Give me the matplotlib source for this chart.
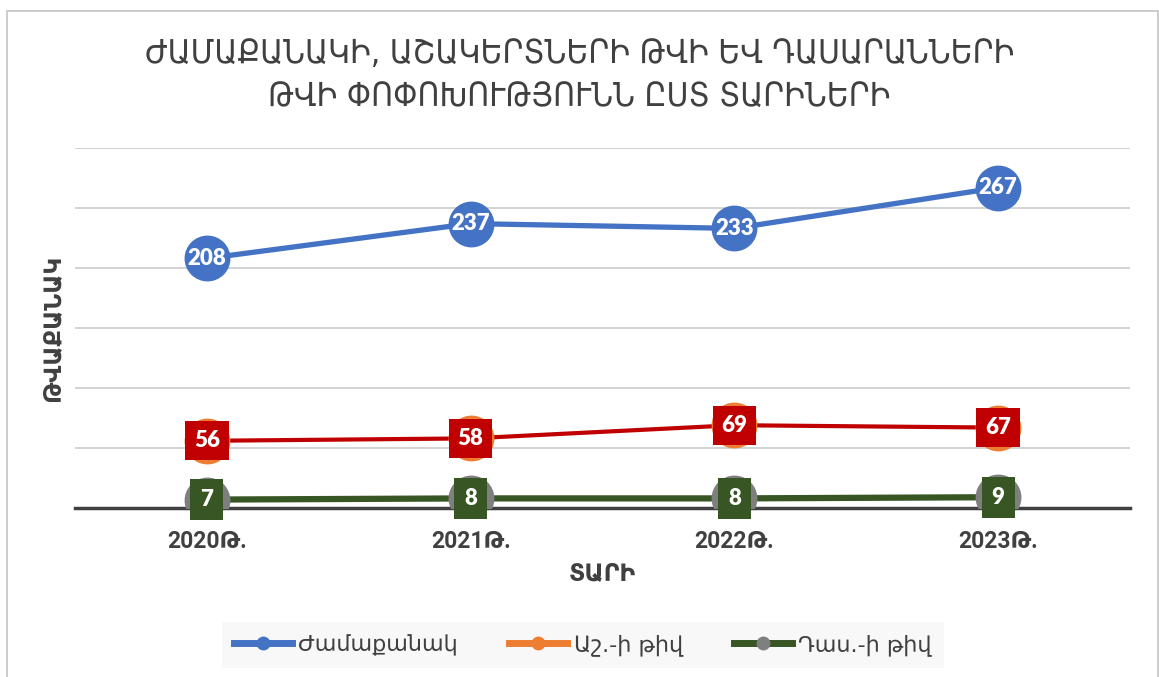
import matplotlib
matplotlib.use("Agg")
import matplotlib.pyplot as plt
from matplotlib.lines import Line2D
from matplotlib.patches import Rectangle

# chart data
years = ["2020Թ.", "2021Թ.", "2022Թ.", "2023Թ."]
hours = [208, 237, 233, 267]
pupils = [56, 58, 69, 67]
classes = [7, 8, 8, 9]
series_names = ["Ժամաքանակ", "Աշ.-ի թիվ", "Դաս.-ի թիվ"]

title = "ԺԱՄԱՔԱՆԱԿԻ, ԱՇԱԿԵՐՏՆԵՐԻ ԹՎԻ ԵՎ ԴԱՍԱՐԱՆՆԵՐԻ\nԹՎԻ ՓՈՓՈԽՈՒԹՅՈՒՆՆ ԸՍՏ ՏԱՐԻՆԵՐԻ"
xlabel = "ՏԱՐԻ"
ylabel = "ԹՎԱՔԱՆԱԿ"

blue = "#4472C4"
orange = "#ED7D31"
red = "#C00000"
green = "#375623"
gray = "#7F7F7F"
txt = "#404040"

W, H = 1159, 677
fig = plt.figure(figsize=(W / 100, H / 100), dpi=100)

# outer chart border
fig.patches.append(Rectangle((7 / W, -0.01), (W - 8) / W, 1 - 11 / H + 0.01,
                             transform=fig.transFigure, fill=False,
                             edgecolor="#C8C8C8", linewidth=1.3))

ax = fig.add_axes([75 / W, (H - 508) / H, (1130 - 75) / W, 360 / H])
x = list(range(len(years)))

ax.plot(x, hours, color=blue, lw=3.8, marker="o", ms=32,
        mfc=blue, mec=blue, zorder=5)
ax.plot(x, pupils, color=red, lw=3.0, marker="o", ms=32,
        mfc=orange, mec=orange, zorder=4)
ax.plot(x, classes, color=green, lw=4.5, marker="o", ms=32,
        mfc=gray, mec=gray, zorder=4)

lab_font = dict(family="Lato", weight="heavy", size=16, color="white",
                ha="center", va="center")
for xi, v in zip(x, hours):
    ax.text(xi, v, str(v), zorder=6, **lab_font)
for xi, v in zip(x, pupils):
    ax.text(xi, v, str(v), zorder=6,
            bbox=dict(boxstyle="square,pad=0.4", fc=red, ec="none"), **lab_font)
for xi, v in zip(x, classes):
    ax.text(xi, v, str(v), zorder=6,
            bbox=dict(boxstyle="square,pad=0.45", fc=green, ec="none"), **lab_font)

ax.set_xlim(-0.5, len(years) - 0.5)
ax.set_ylim(0, 300)
ax.set_yticks(range(50, 301, 50))
ax.set_yticklabels([])
ax.tick_params(axis="y", length=0)
ax.tick_params(axis="x", length=0, pad=16)
ax.set_xticks(x)
ax.set_xticklabels(years, family=["Roboto", "DejaVu Sans"], weight="bold",
                   size=16.5, color=txt)
ax.grid(axis="y", color="#D0D0D0", lw=1.3)
ax.set_axisbelow(True)
for s in ["top", "right", "left"]:
    ax.spines[s].set_visible(False)
ax.spines["bottom"].set_color(txt)
ax.spines["bottom"].set_linewidth(2.5)
ax.spines["bottom"].set_zorder(3)

ax.set_xlabel(xlabel, family="DejaVu Sans", weight="bold", size=17,
              color=txt, labelpad=6)
ax.set_ylabel(ylabel, family="DejaVu Sans", weight="bold", size=17,
              color=txt, labelpad=4)

fig.text(0.5, 1 - 75 / H, title, ha="center", va="center",
         family="DejaVu Sans", stretch="condensed", size=24, color=txt,
         linespacing=1.35)

handles = [
    Line2D([], [], color=blue, lw=5, marker="o", ms=9, mfc=blue, mec=blue),
    Line2D([], [], color=orange, lw=5, marker="o", ms=9, mfc=orange, mec=orange),
    Line2D([], [], color=green, lw=5, marker="o", ms=9, mfc=gray, mec=gray),
]
leg = fig.legend(handles, series_names, loc="center", ncol=3,
                 bbox_to_anchor=(583 / W, 1 - 645 / H), frameon=True,
                 fancybox=False, handlelength=2.6, columnspacing=2.3,
                 handletextpad=0.3, borderpad=0.55,
                 prop=dict(family="DejaVu Sans", size=16))
leg.get_frame().set_facecolor("#F7F7F7")
leg.get_frame().set_edgecolor("none")
for t in leg.get_texts():
    t.set_color(txt)

fig.savefig("out.png", dpi=100)
